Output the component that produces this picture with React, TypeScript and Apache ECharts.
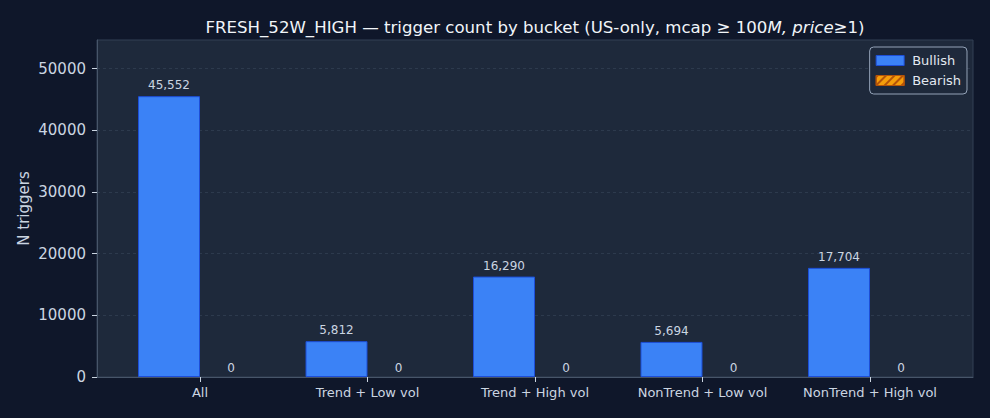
import React, { useEffect, useRef } from "react";
import * as echarts from "echarts";

const categories = ["All", "Trend + Low vol", "Trend + High vol", "NonTrend + Low vol", "NonTrend + High vol"];
const bullish = [45552, 5812, 16290, 5694, 17704];
const bearish = [0, 0, 0, 0, 0];
const yTicks = [0, 10000, 20000, 30000, 40000, 50000];

const FONT = "DejaVu Sans";

export default function App() {
  const ref = useRef<HTMLDivElement>(null);
  useEffect(() => {
    if (!ref.current) return;
    const chart = echarts.init(ref.current, null, { renderer: "svg" });
    const idx = categories.map((_, i) => i);
    const fmt = (p: any) => Number(p.value[1]).toLocaleString("en-US");
    const hatch = {
      symbol: "rect",
      symbolSize: 1,
      color: "#b45309",
      dashArrayX: [1, 0],
      dashArrayY: [2, 4],
      rotation: -Math.PI / 4,
    };
    chart.setOption({
      animation: false,
      backgroundColor: "#0f172a",
      textStyle: { fontFamily: FONT },
      title: {
        text: "FRESH_52W_HIGH — trigger count by bucket (US-only, mcap ≥ 100{it|M, price}≥1)",
        left: 530,
        top: 14,
        textAlign: "center",
        textStyle: {
          color: "#f1f5f9",
          fontSize: 16.6,
          fontWeight: "normal",
          fontFamily: FONT,
          rich: { it: { fontStyle: "italic", fontSize: 16.6, color: "#f1f5f9", fontFamily: FONT } },
        },
      },
      legend: {
        orient: "vertical",
        right: 23,
        top: 47,
        padding: [7, 6, 7, 6],
        itemGap: 7,
        itemWidth: 28,
        itemHeight: 10,
        icon: "rect",
        backgroundColor: "#1e293b",
        borderColor: "#94a3b8",
        borderWidth: 1,
        borderRadius: 4,
        textStyle: { color: "#e2e8f0", fontSize: 13, fontFamily: FONT, padding: [0, 0, 0, 3] },
        data: [
          { name: "Bullish", itemStyle: { color: "#3b82f6", borderColor: "#1d4ed8", borderWidth: 1 } },
          { name: "Bearish", itemStyle: { color: "#f59e0b", borderColor: "#b45309", borderWidth: 1, decal: hatch } },
        ],
      },
      grid: {
        left: 97,
        right: 17,
        top: 40,
        bottom: 41,
        show: true,
        backgroundColor: "#1e293b",
        borderColor: "#334155",
        borderWidth: 1,
      },
      xAxis: {
        type: "value",
        min: -0.615,
        max: 4.615,
        axisLine: { show: true, onZero: false, lineStyle: { color: "#475569" } },
        axisTick: { show: true, length: 5, lineStyle: { color: "#cbd5e1" }, customValues: idx },
        axisLabel: {
          customValues: idx,
          color: "#cbd5e1",
          fontSize: 13,
          margin: 9,
          fontFamily: FONT,
          formatter: (v: number) => categories[Math.round(v)] ?? "",
        },
        splitLine: { show: false },
      },
      yAxis: {
        type: "value",
        min: 0,
        max: 54662,
        interval: 10000,
        name: "N triggers",
        nameLocation: "middle",
        nameGap: 66,
        nameMoveOverlap: false,
        nameTextStyle: { color: "#cbd5e1", fontSize: 15, fontFamily: FONT },
        axisLine: { show: true, onZero: false, lineStyle: { color: "#475569" } },
        axisTick: { show: true, length: 5, lineStyle: { color: "#cbd5e1" }, customValues: yTicks },
        axisLabel: {
          customValues: yTicks,
          color: "#cbd5e1",
          fontSize: 15,
          margin: 11,
          fontFamily: FONT,
          formatter: (v: number) => String(v),
        },
        splitLine: { show: true, lineStyle: { color: "#334155", type: [3, 3], width: 1, opacity: 0.7 } },
      },
      series: [
        {
          name: "Bullish",
          type: "bar",
          barWidth: 62,
          barGap: "0%",
          data: bullish.map((v, i) => [i, v]),
          itemStyle: { color: "#3b82f6", borderColor: "#1d4ed8", borderWidth: 1 },
          label: { show: true, position: "top", distance: 5, color: "#cbd5e1", fontSize: 12, fontFamily: FONT, formatter: fmt },
          z: 3,
        },
        {
          name: "Bearish",
          type: "bar",
          barWidth: 62,
          barGap: "0%",
          data: bearish.map((v, i) => [i, v]),
          itemStyle: { color: "#f59e0b", borderWidth: 0, decal: hatch },
          label: { show: true, position: "top", distance: 3, color: "#cbd5e1", fontSize: 12, fontFamily: FONT, formatter: fmt },
          z: 3,
        },
      ],
    });
    return () => chart.dispose();
  }, []);
  return <div ref={ref} style={{ width: 990, height: 418, position: "absolute", left: 0, top: 0 }} />;
}
